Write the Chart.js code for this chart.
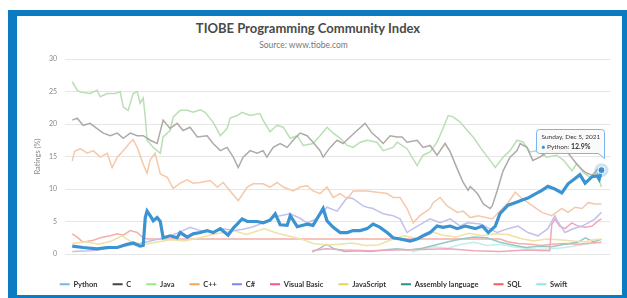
<!DOCTYPE html>
<html>
<head>
<meta charset="utf-8">
<script src="https://cdn.jsdelivr.net/npm/chart.js@4.4.1/dist/chart.umd.min.js"></script>
<style>
  html, body { margin: 0; padding: 0; background: #fff; }
  body { width: 627px; height: 298px; position: relative; overflow: hidden; font-family: Lato, sans-serif; }
  #frame { position: absolute; left: 8px; top: 10px; width: 619px; height: 288px; box-sizing: border-box;
           border-style: solid; border-color: #0b7cc1; border-width: 6px 5px 3px 9px; background: #fff; }
  #title { position: absolute; left: 0; width: 616px; top: 20px; line-height: 16px; text-align: center;
           font-size: 13px; font-weight: bold; color: #4a4a4a; }
  #subtitle { position: absolute; left: 0; width: 607px; top: 39px; line-height: 12px; text-align: center;
              font-size: 8.5px; color: #777; }
  #chart { position: absolute; left: 17px; top: 15px; }
</style>
</head>
<body>
<div id="frame"></div>
<div id="title">TIOBE Programming Community Index</div>
<div id="subtitle">Source: www.tiobe.com</div>
<canvas id="chart" width="605" height="285"></canvas>
<script>
// Series as [year, rating %]
const languages = ['Python', 'C', 'Java', 'C++', 'C#', 'Visual Basic', 'JavaScript', 'Assembly language', 'SQL', 'Swift'];
const xTickYears = [2002, 2004, 2006, 2008, 2010, 2012, 2014, 2016, 2018, 2020, 2022];
const tipDate = 'Sunday, Dec 5, 2021';

const python = [
  [2001.48, 1.2], [2001.90, 1.0], [2002.44, 0.8], [2002.83, 1.0], [2003.22, 1.0], [2003.60, 1.5], [2003.83, 1.7],
  [2004.10, 1.2], [2004.22, 1.3], [2004.30, 5.6], [2004.37, 6.6], [2004.49, 5.9], [2004.61, 5.1], [2004.76, 5.6],
  [2004.88, 5.0], [2004.99, 2.5], [2005.26, 2.8], [2005.53, 2.5], [2005.65, 3.3], [2005.92, 2.6], [2006.15, 3.1],
  [2006.42, 3.3], [2006.69, 3.6], [2006.92, 3.3], [2007.20, 3.9], [2007.50, 2.9], [2007.70, 4.0], [2007.85, 4.6],
  [2008.04, 5.4], [2008.24, 5.0], [2008.62, 5.0], [2008.85, 4.8], [2009.12, 5.2], [2009.32, 6.2], [2009.51, 4.5],
  [2009.78, 4.4], [2009.90, 5.9], [2010.17, 4.2], [2010.55, 4.6], [2010.78, 4.4], [2011.05, 6.2], [2011.17, 7.0],
  [2011.32, 5.1], [2011.56, 4.1], [2011.83, 3.3], [2012.10, 3.3], [2012.33, 3.6], [2012.60, 3.6], [2012.87, 3.9],
  [2013.10, 4.6], [2013.37, 4.1], [2013.64, 3.3], [2013.87, 2.5], [2014.14, 2.3], [2014.53, 2.0], [2014.80, 2.3],
  [2015.03, 2.8], [2015.30, 3.3], [2015.57, 4.3], [2015.80, 4.1], [2016.08, 4.3], [2016.35, 3.9], [2016.66, 4.3],
  [2017.05, 3.9], [2017.32, 4.3], [2017.55, 3.3], [2017.82, 4.3], [2018.00, 6.2], [2018.31, 7.5], [2018.59, 7.9],
  [2018.86, 8.3], [2019.08, 8.6], [2019.35, 9.2], [2019.62, 9.8], [2019.85, 10.4], [2020.12, 10.0], [2020.39, 9.4],
  [2020.63, 10.8], [2020.90, 11.6], [2021.09, 12.2], [2021.29, 10.9], [2021.56, 11.9], [2021.75, 12.0],
  [2021.83, 11.5], [2021.92, 12.9]
];

const cLang = [
  [2001.48, 20.6], [2001.67, 20.9], [2001.90, 19.8], [2002.17, 20.1], [2002.44, 19.3], [2002.68, 18.6], [2002.95, 18.2],
  [2003.22, 18.6], [2003.45, 17.8], [2003.72, 18.6], [2003.99, 18.2], [2004.22, 18.2], [2004.49, 17.5], [2004.76, 17.0],
  [2004.99, 20.6], [2005.26, 19.3], [2005.53, 20.1], [2005.76, 19.0], [2006.03, 19.5], [2006.31, 18.0], [2006.69, 18.2],
  [2006.92, 17.0], [2007.20, 15.9], [2007.46, 16.4], [2007.70, 14.9], [2007.89, 13.3], [2008.08, 14.9], [2008.35, 15.9],
  [2008.62, 15.5], [2008.85, 15.9], [2009.00, 14.9], [2009.24, 16.4], [2009.51, 17.0], [2009.78, 16.4], [2010.01, 17.5],
  [2010.28, 18.6], [2010.55, 18.2], [2010.78, 17.2], [2011.05, 15.9], [2011.17, 14.9], [2011.44, 16.4], [2011.71, 17.5],
  [2011.94, 17.0], [2012.21, 18.0], [2012.48, 19.0], [2012.79, 20.1], [2013.06, 18.6], [2013.29, 17.8], [2013.49, 17.0],
  [2013.76, 18.2], [2014.03, 18.0], [2014.22, 18.0], [2014.41, 17.2], [2014.80, 17.5], [2015.03, 16.4], [2015.30, 16.7],
  [2015.57, 15.2], [2015.88, 17.0], [2016.08, 15.7], [2016.35, 13.1], [2016.58, 11.0], [2016.77, 9.8], [2016.85, 10.4],
  [2017.13, 9.3], [2017.36, 7.7], [2017.62, 7.0], [2017.70, 7.4], [2017.89, 9.7], [2018.12, 12.8], [2018.39, 14.9],
  [2018.66, 15.9], [2018.78, 17.0], [2019.04, 16.4], [2019.27, 14.4], [2019.54, 14.9], [2019.92, 15.9], [2020.19, 15.5],
  [2020.46, 16.4], [2020.70, 15.2], [2020.97, 13.8], [2021.17, 13.0], [2021.29, 12.6], [2021.56, 12.1], [2021.79, 13.1],
  [2021.92, 11.8]
];

const java = [
  [2001.48, 26.5], [2001.67, 25.2], [2001.79, 24.9], [2002.17, 24.7], [2002.44, 25.2], [2002.56, 24.2], [2002.83, 24.7],
  [2003.14, 24.7], [2003.33, 25.0], [2003.45, 22.6], [2003.64, 22.1], [2003.83, 24.7], [2003.99, 25.0], [2004.10, 23.2],
  [2004.22, 24.0], [2004.30, 21.1], [2004.37, 17.5], [2004.61, 16.4], [2004.88, 15.5], [2004.99, 18.0], [2005.26, 19.0],
  [2005.38, 21.1], [2005.65, 22.1], [2005.92, 22.1], [2006.15, 21.8], [2006.42, 22.2], [2006.61, 21.8], [2006.92, 20.3],
  [2007.20, 18.2], [2007.46, 19.3], [2007.58, 20.9], [2007.85, 21.3], [2008.04, 21.8], [2008.35, 21.3], [2008.73, 21.6],
  [2008.85, 20.6], [2009.12, 18.8], [2009.39, 19.8], [2009.63, 19.5], [2009.90, 17.8], [2010.17, 18.2], [2010.40, 16.7],
  [2010.78, 17.0], [2011.05, 18.2], [2011.32, 19.5], [2011.56, 18.6], [2011.83, 17.8], [2012.10, 16.7], [2012.33, 16.4],
  [2012.60, 17.2], [2012.87, 17.5], [2013.25, 17.2], [2013.49, 15.9], [2013.87, 16.4], [2014.03, 17.2], [2014.41, 16.2],
  [2014.80, 13.6], [2015.03, 15.2], [2015.30, 15.7], [2015.57, 17.2], [2015.80, 19.3], [2016.00, 21.3], [2016.19, 21.1],
  [2016.46, 20.3], [2016.74, 19.0], [2017.00, 17.8], [2017.24, 16.4], [2017.62, 14.4], [2017.82, 13.3], [2018.12, 14.9],
  [2018.39, 15.9], [2018.66, 17.5], [2018.90, 17.2], [2019.16, 15.7], [2019.43, 15.9], [2019.81, 14.9], [2020.19, 15.2],
  [2020.46, 14.4], [2020.78, 12.8], [2020.97, 13.9], [2021.21, 12.6], [2021.48, 11.8], [2021.75, 12.4], [2021.92, 10.3]
];

const cpp = [
  [2001.48, 14.3], [2001.57, 15.8], [2001.79, 16.2], [2002.06, 15.5], [2002.29, 15.9], [2002.56, 14.9], [2002.83, 15.5],
  [2003.02, 13.3], [2003.22, 14.9], [2003.45, 15.9], [2003.72, 17.2], [2003.83, 17.6], [2003.99, 16.4], [2004.22, 13.8],
  [2004.37, 12.4], [2004.49, 14.5], [2004.68, 15.5], [2004.88, 12.3], [2005.15, 11.8], [2005.38, 10.1], [2005.65, 10.9],
  [2005.92, 11.4], [2006.15, 10.9], [2006.42, 11.0], [2006.81, 11.3], [2007.08, 10.3], [2007.31, 11.0], [2007.58, 9.7],
  [2007.89, 8.2], [2008.24, 10.3], [2008.47, 10.8], [2008.85, 10.8], [2009.12, 10.3], [2009.39, 11.0], [2009.63, 10.3],
  [2010.01, 9.7], [2010.28, 10.3], [2010.55, 10.5], [2010.78, 9.7], [2011.05, 9.3], [2011.32, 10.3], [2011.56, 8.7],
  [2011.83, 9.3], [2012.10, 8.5], [2012.33, 9.7], [2012.60, 9.7], [2012.87, 9.7], [2013.25, 9.5], [2013.64, 9.3],
  [2013.87, 8.7], [2014.14, 8.7], [2014.41, 7.0], [2014.65, 4.8], [2014.91, 5.9], [2015.30, 7.0], [2015.42, 7.9],
  [2015.69, 8.7], [2015.96, 7.4], [2016.35, 6.4], [2016.58, 6.6], [2016.85, 5.6], [2017.16, 5.9], [2017.70, 5.4],
  [2018.31, 7.9], [2018.59, 9.5], [2018.86, 8.5], [2019.08, 7.9], [2019.62, 6.4], [2020.00, 5.9], [2020.39, 7.0],
  [2020.63, 6.4], [2020.90, 7.2], [2021.17, 7.0], [2021.41, 7.9], [2021.67, 7.7], [2021.92, 7.7]
];

const csharp = [
  [2001.48, 0.4], [2002.17, 0.5], [2002.83, 0.8], [2003.45, 1.2], [2004.10, 1.6], [2004.61, 2.1], [2005.15, 2.6],
  [2005.65, 3.4], [2006.03, 4.1], [2006.42, 3.6], [2006.92, 3.4], [2007.31, 3.9], [2007.70, 3.6], [2008.08, 3.8],
  [2008.47, 4.2], [2008.73, 4.6], [2009.24, 5.6], [2009.51, 5.9], [2009.90, 6.2], [2010.28, 5.5], [2010.55, 4.8],
  [2010.86, 5.3], [2011.32, 7.2], [2011.71, 6.6], [2012.10, 8.7], [2012.33, 8.5], [2012.71, 7.4], [2012.87, 7.2],
  [2013.10, 7.0], [2013.29, 6.6], [2013.49, 6.2], [2013.87, 5.9], [2014.14, 5.4], [2014.41, 3.3], [2014.65, 3.9],
  [2015.03, 4.8], [2015.30, 5.4], [2015.69, 4.8], [2016.08, 5.4], [2016.46, 4.3], [2016.74, 4.8], [2017.24, 4.6],
  [2017.89, 3.3], [2018.31, 3.9], [2018.70, 4.3], [2019.08, 3.3], [2019.47, 2.8], [2019.85, 3.9], [2020.12, 5.9],
  [2020.23, 5.0], [2020.51, 3.3], [2020.78, 3.8], [2021.17, 4.3], [2021.41, 4.8], [2021.67, 5.4], [2021.92, 6.4]
];

const visualBasic = [
  [2010.75, 0.5], [2011.30, 0.8], [2012.00, 0.6], [2013.00, 0.5], [2014.00, 0.6], [2015.00, 0.7], [2016.00, 0.8],
  [2017.00, 0.5], [2018.00, 0.4], [2019.00, 0.6], [2019.92, 0.5], [2020.00, 4.5], [2020.12, 5.4], [2020.30, 4.3],
  [2020.51, 3.9], [2020.78, 4.8], [2021.01, 4.3], [2021.29, 4.1], [2021.56, 4.3], [2021.79, 5.1], [2021.92, 5.4]
];

const javascript = [
  [2001.48, 1.6], [2002.00, 1.9], [2002.50, 1.5], [2003.00, 2.0], [2003.40, 2.8], [2003.80, 1.8], [2004.30, 1.5],
  [2004.80, 1.9], [2005.30, 2.2], [2005.80, 2.0], [2006.40, 2.5], [2006.90, 3.0], [2007.30, 3.3], [2007.70, 3.6],
  [2008.20, 3.0], [2008.60, 3.5], [2008.90, 3.9], [2009.30, 3.3], [2009.60, 3.0], [2010.00, 2.6], [2010.40, 2.2],
  [2010.80, 1.6], [2011.30, 1.4], [2011.80, 1.5], [2012.30, 1.7], [2012.80, 1.3], [2013.30, 1.4], [2013.80, 2.2],
  [2014.30, 2.8], [2014.80, 2.4], [2015.30, 3.5], [2015.80, 2.9], [2016.30, 2.6], [2016.80, 3.2], [2017.30, 2.8],
  [2017.80, 3.1], [2018.30, 3.0], [2018.80, 2.4], [2019.30, 2.0], [2019.80, 2.3], [2020.30, 2.2], [2020.80, 2.0],
  [2021.30, 1.9], [2021.60, 2.2], [2021.92, 2.3]
];

const assembly = [
  [2010.75, 0.3], [2011.05, 0.9], [2011.30, 1.5], [2011.60, 0.8], [2012.00, 0.4], [2012.50, 0.5], [2013.00, 0.4],
  [2013.50, 0.6], [2014.00, 0.8], [2014.50, 0.6], [2015.00, 0.9], [2015.50, 1.4], [2016.00, 1.9], [2016.50, 2.3],
  [2017.00, 2.6], [2017.50, 2.5], [2018.00, 1.8], [2018.50, 1.4], [2019.00, 1.0], [2019.50, 1.2], [2020.00, 1.1],
  [2020.50, 1.5], [2021.00, 1.8], [2021.30, 2.5], [2021.60, 1.9], [2021.92, 2.25]
];

const sql = [
  [2001.48, 3.1], [2001.67, 2.6], [2001.90, 1.8], [2002.29, 2.1], [2002.56, 2.5], [2002.95, 2.8], [2003.22, 3.1],
  [2003.45, 2.9], [2003.72, 3.6], [2003.99, 3.3], [2004.22, 2.5], [2004.40, 2.3], [2018.00, 2.3], [2018.30, 1.9],
  [2018.70, 1.6], [2019.20, 1.5], [2019.60, 1.3], [2020.00, 1.5], [2020.50, 1.6], [2021.00, 1.5], [2021.50, 1.7],
  [2021.92, 1.8]
];

const swift = [
  [2014.60, 0.3], [2015.00, 0.8], [2015.50, 1.1], [2016.00, 0.9], [2016.50, 1.5], [2017.00, 1.8], [2017.50, 1.3],
  [2018.00, 1.5], [2018.50, 1.1], [2019.00, 0.9], [2019.50, 0.7], [2020.00, 0.8], [2020.50, 1.0], [2021.00, 1.3],
  [2021.50, 1.6], [2021.92, 1.76]
];

const series = [python, cLang, java, cpp, csharp, visualBasic, javascript, assembly, sql, swift];

// Highcharts-style palette: legend keeps the full colour, plot lines are faded
const legendColors = ['#7cb5ec', '#434348', '#90ed7d', '#f7a35c', '#8085e9', '#f15c80', '#e4d354', '#2b908f', '#f45b5b', '#91e8e1'];
const lineColors = ['#3c93d2', '#aeaaa8', '#badfb4', '#f6c8aa', '#c2c0ec', '#f0a6bb', '#eee2a6', '#98c8c6', '#f5aea8', '#c3efeb'];

const hoverTip = {
    id: 'hoverTip',
    afterDatasetsDraw(chart) {
        const ctx = chart.ctx;
        const meta = chart.getDatasetMeta(0);
        const pt = meta.data[meta.data.length - 1];
        const value = python[python.length - 1][1];

        ctx.save();
        ctx.beginPath();
        ctx.arc(pt.x, pt.y, 7, 0, Math.PI * 2);
        ctx.fillStyle = 'rgba(60, 147, 210, 0.25)';
        ctx.fill();
        ctx.beginPath();
        ctx.arc(pt.x, pt.y, 3.5, 0, Math.PI * 2);
        ctx.fillStyle = '#3c93d2';
        ctx.fill();
        ctx.strokeStyle = '#fff';
        ctx.lineWidth = 1;
        ctx.stroke();

        // callout box
        const w = 68, h = 24;
        const bx = Math.round(pt.x - 65) + 0.5, by = Math.round(pt.y - 41) + 0.5;
        ctx.beginPath();
        ctx.moveTo(bx + 3, by);
        ctx.lineTo(bx + w - 3, by);
        ctx.quadraticCurveTo(bx + w, by, bx + w, by + 3);
        ctx.lineTo(bx + w, by + h + 5);
        ctx.lineTo(bx + w - 6, by + h);
        ctx.lineTo(bx + 3, by + h);
        ctx.quadraticCurveTo(bx, by + h, bx, by + h - 3);
        ctx.lineTo(bx, by + 3);
        ctx.quadraticCurveTo(bx, by, bx + 3, by);
        ctx.closePath();
        ctx.fillStyle = 'rgba(250, 250, 250, 0.9)';
        ctx.fill();
        ctx.strokeStyle = '#7cb5ec';
        ctx.stroke();

        ctx.textBaseline = 'middle';
        ctx.font = '6.5px Lato';
        ctx.fillStyle = '#333';
        ctx.fillText(tipDate, bx + 5, by + 7);

        let tx = bx + 5;
        ctx.fillStyle = '#3c93d2';
        ctx.fillText('\u25CF', tx, by + 17);
        tx += ctx.measureText('\u25CF ').width;
        ctx.fillStyle = '#333';
        ctx.fillText('Python: ', tx, by + 17);
        tx += ctx.measureText('Python: ').width;
        ctx.font = 'bold 7px Lato';
        ctx.fillText(value.toFixed(1) + '%', tx, by + 17);
        ctx.restore();
    }
};

const chart = new Chart(document.getElementById('chart'), {
    type: 'line',
    data: {
        datasets: languages.map((name, i) => ({
            label: name,
            data: series[i].map(p => ({ x: p[0], y: p[1] })),
            borderColor: lineColors[i],
            borderWidth: i === 0 ? 3.2 : 1.5,
            pointRadius: 0,
            tension: 0,
            fill: false
        }))
    },
    options: {
        responsive: false,
        animation: false,
        devicePixelRatio: 1,
        layout: { padding: { left: 0, right: 12, top: 44, bottom: 2 } },
        plugins: {
            tooltip: { enabled: false },
            legend: {
                position: 'bottom',
                labels: {
                    usePointStyle: true,
                    pointStyleWidth: 10,
                    padding: 15,
                    color: '#333',
                    font: { family: 'Lato', size: 7.5, weight: 'bold' },
                    generateLabels: chart => chart.data.datasets.map((ds, i) => ({
                        text: ds.label,
                        fillStyle: legendColors[i],
                        strokeStyle: legendColors[i],
                        lineWidth: 2,
                        pointStyle: 'line',
                        hidden: false,
                        datasetIndex: i,
                        fontColor: '#333'
                    }))
                }
            }
        },
        scales: {
            x: {
                type: 'linear',
                min: 2001.2,
                max: 2022.25,
                afterBuildTicks: scale => { scale.ticks = xTickYears.map(v => ({ value: v })); },
                afterFit: scale => { scale.height = 11.5; },
                grid: { display: false },
                border: { display: false },
                ticks: {
                    padding: 5,
                    maxRotation: 0,
                    autoSkip: false,
                    color: '#888',
                    font: { family: 'Lato', size: 7 },
                    callback: v => String(v)
                }
            },
            y: {
                min: 0,
                max: 30,
                afterFit: scale => { scale.width = 48; },
                grid: { color: '#e6e6e6', drawTicks: false },
                border: { display: false },
                ticks: { stepSize: 5, padding: 8, color: '#888', font: { family: 'Lato', size: 7 } },
                title: {
                    display: true,
                    text: 'Ratings (%)',
                    color: '#888',
                    padding: { top: 16, bottom: 0 },
                    font: { family: 'Lato', size: 7.5 }
                }
            }
        }
    },
    plugins: [hoverTip]
});
</script>
</body>
</html>
